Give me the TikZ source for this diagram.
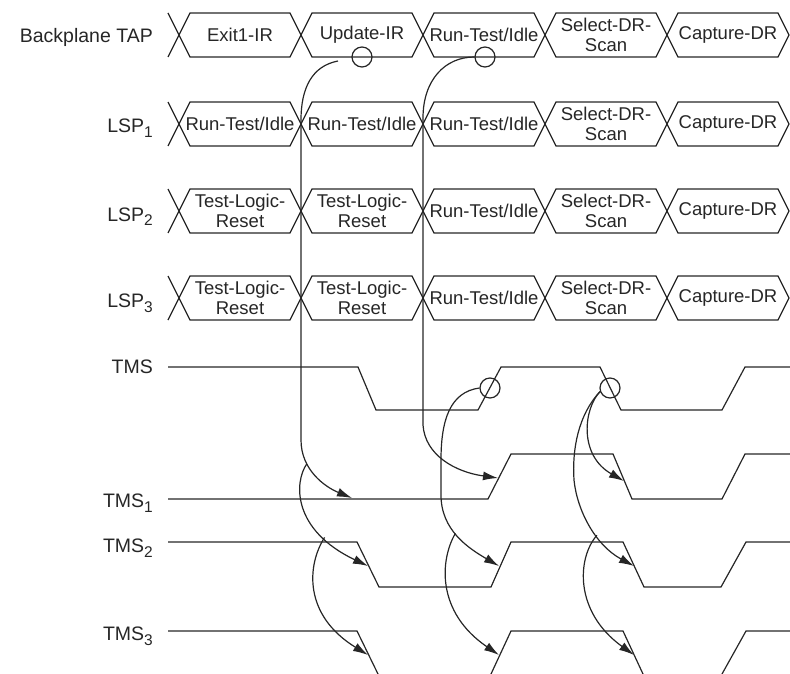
\documentclass[tikz,border=0pt]{standalone}
\usepackage{fontspec}
\setmainfont{Liberation Sans}
\usetikzlibrary{arrows.meta}
\definecolor{ink}{HTML}{262626}
% subscript index used in the signal names
\newcommand\sigidx[1]{\raisebox{-5pt}{\fontsize{15.5}{16}\selectfont #1}}
\begin{document}
\begin{tikzpicture}[x=1pt,y=-1pt,
  wave/.style={line width=1.2pt, draw=ink, line join=miter},
  flow/.style={line width=1.2pt, draw=ink, -{Latex[length=15pt,width=9pt]}},
  lbl/.style={inner sep=0pt, anchor=base east, text=ink, font=\fontsize{19.5}{22}\selectfont},
  st/.style={inner sep=0pt, align=center, text=ink, font=\fontsize{18.5}{20.5}\selectfont},
  ring/.style={circle, draw=ink, line width=1.2pt, minimum size=20pt, inner sep=0pt},
]
\useasboundingbox (0,0) rectangle (790,674);

% row labels
\node[lbl] (bp) at (153,43)  {Backplane TAP};
\node[lbl] (l1) at (153,133) {LSP\sigidx{1}};
\node[lbl] (l2) at (153,221) {LSP\sigidx{2}};
\node[lbl] (l3) at (153,307) {LSP\sigidx{3}};
\node[lbl] (tms)  at (153,373) {TMS};
\node[lbl] (tms1) at (153,507) {TMS\sigidx{1}};
\node[lbl] (tms2) at (153,552) {TMS\sigidx{2}};
\node[lbl] (tms3) at (153,640) {TMS\sigidx{3}};

% state bus outlines
\foreach \ym in {35,124,211,298} {
  \draw[wave] (168,\ym-22) -- (179,\ym) -- (168,\ym+22);
  \foreach \i in {0,...,4} {
    \pgfmathsetmacro\xa{179+122*\i}
    \draw[wave] (\xa,\ym) -- ++(11,-22) -- ++(100,0) -- ++(11,22)
                -- ++(-11,22) -- ++(-100,0) -- cycle;
  }
}

% state names
\node[st] (bp0) at (240,35) {Exit1-IR};
\node[st] (bp1) at (362,35) {Update-IR};
\node[st] (bp2) at (484,35) {Run-Test/Idle};
\node[st] (bp3) at (606,35) {Select-DR-\\Scan};
\node[st] (bp4) at (728,35) {Capture-DR};

\node[st] (a0) at (240,124) {Run-Test/Idle};
\node[st] (a1) at (362,124) {Run-Test/Idle};
\node[st] (a2) at (484,124) {Run-Test/Idle};
\node[st] (a3) at (606,124) {Select-DR-\\Scan};
\node[st] (a4) at (728,124) {Capture-DR};

\node[st] (b0) at (240,211) {Test-Logic-\\Reset};
\node[st] (b1) at (362,211) {Test-Logic-\\Reset};
\node[st] (b2) at (484,211) {Run-Test/Idle};
\node[st] (b3) at (606,211) {Select-DR-\\Scan};
\node[st] (b4) at (728,211) {Capture-DR};

\node[st] (d0) at (240,298) {Test-Logic-\\Reset};
\node[st] (d1) at (362,298) {Test-Logic-\\Reset};
\node[st] (d2) at (484,298) {Run-Test/Idle};
\node[st] (d3) at (606,298) {Select-DR-\\Scan};
\node[st] (d4) at (728,298) {Capture-DR};

% TMS waveforms
\draw[wave] (168,367) -- (358,367) -- (376,410) -- (478,410) -- (501,367)
  -- (600,367) -- (621,410) -- (722,410) -- (745,367) -- (790,367);
\draw[wave] (168,499) -- (488,499) -- (511,454) -- (613,454) -- (632,499)
  -- (722,499) -- (745,454) -- (790,454);
\draw[wave] (168,542) -- (357,542) -- (379,587) -- (491,587) -- (511,542)
  -- (623,542) -- (644,587) -- (721,587) -- (746,542) -- (790,542);
\draw[wave] (168,631) -- (357,631) -- (378,674);
\draw[wave] (491,674) -- (511,631) -- (623,631) -- (643,674);
\draw[wave] (722,674) -- (746,631) -- (790,631);

% sampling points
\node[ring] (c1) at (362,57) {};
\node[ring] (c2) at (485,57) {};
\node[ring] (c3) at (490,388) {};
\node[ring] (c4) at (610,388) {};

% arrow targets on the TMS lines
\coordinate (t1) at (352,498);
\coordinate (t2) at (498,478);
\coordinate (t3) at (368,566);
\coordinate (t4) at (368,655);
\coordinate (t5) at (499,566);
\coordinate (t6) at (499,655);
\coordinate (t7) at (624,481);
\coordinate (t8) at (634,566);
\coordinate (t9) at (634,655);
\coordinate (s1) at (338,61);

% Update-IR fan-out
\draw[flow] (s1) .. controls (312,66) and (301,88) .. (301,120) -- (301,440)
  .. controls (301,470) and (325,487) .. (t1) coordinate[pos=0.3] (ab);
\draw[flow] (ab) .. controls (294,482) and (292,530) .. (t3) coordinate[pos=0.75] (ac);
\draw[flow] (ac) .. controls (307,565) and (303,615) .. (t4);

% Run-Test/Idle
\draw[flow] (c2.west) .. controls (445,57) and (423,80) .. (423,118) -- (423,425)
  .. controls (425,455) and (455,472) .. (t2);

% first TMS edge fan-out
\draw[flow] (c3.west) .. controls (450,392) and (441,420) .. (441,460) -- (441,495)
  .. controls (441,530) and (468,548) .. (t5) coordinate[pos=0.45] (cb);
\draw[flow] (cb) .. controls (440,560) and (436,612) .. (t6);

% second TMS edge fan-out
\draw[flow] (c4.200) .. controls (584,408) and (578,455) .. (t7);
\draw[flow] (c4.200) .. controls (578,415) and (572,450) .. (574,480)
  .. controls (577,510) and (595,545) .. (t8) coordinate[pos=0.6] (db);
\draw[flow] (db) .. controls (577,558) and (574,612) .. (t9);

\end{tikzpicture}
\end{document}
